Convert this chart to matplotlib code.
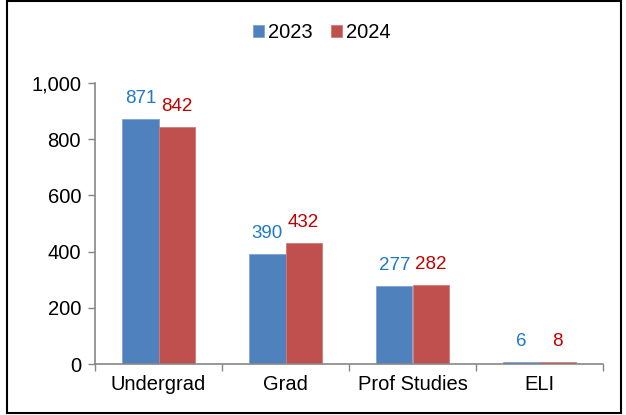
import matplotlib
matplotlib.use("Agg")
import matplotlib.pyplot as plt
from matplotlib.patches import Rectangle
from matplotlib.ticker import FuncFormatter, FixedLocator
import numpy as np

categories = ["Undergrad", "Grad", "Prof Studies", "ELI"]
series_names = ["2023", "2024"]
values_2023 = [871, 390, 277, 6]
values_2024 = [842, 432, 282, 8]
y_ticks = [0, 200, 400, 600, 800, 1000]

plt.rcParams['font.family'] = ['Liberation Sans', 'DejaVu Sans']

W, H = 626, 415
fig = plt.figure(figsize=(W / 100, H / 100), dpi=100)
ax = fig.add_axes([95 / W, (H - 364) / H, (603 - 95) / W, (364 - 83) / H])

x = np.arange(len(categories))
bw = 0.285
bar_colors = ["#4F81BD", "#C0504D"]
label_colors = ["#1F78C8", "#C00000"]
edge_colors = ["#7EA3D3", "#D07A78"]

for i, (vals, name) in enumerate(zip([values_2023, values_2024], series_names)):
    pos = x + (i - 0.5) * bw
    bars = ax.bar(pos, vals, width=bw, color=bar_colors[i], edgecolor=edge_colors[i],
                  linewidth=0.6, label=name, zorder=2)
    for b, v in zip(bars, vals):
        ax.annotate(f"{v:,}", (b.get_x() + b.get_width() / 2, v),
                    xytext=(0, 11.5), textcoords="offset points",
                    ha="center", va="baseline", fontsize=13.5, color=label_colors[i])

ax.set_xlim(-0.5, len(categories) - 0.5)
ax.set_ylim(0, 1000)
ax.yaxis.set_major_locator(FixedLocator(y_ticks))
ax.yaxis.set_major_formatter(FuncFormatter(lambda v, p: f"{int(v):,}"))

ax.set_xticks(x)
ax.set_xticklabels(categories)
ax.set_xticks(np.arange(-0.5, len(categories)), minor=True)
ax.tick_params(axis="x", which="major", length=0, labelsize=14.5, pad=8)
ax.tick_params(axis="x", which="minor", length=5, width=1, color="#868686", direction="out")
ax.tick_params(axis="y", length=5, width=1, color="#868686", direction="out", labelsize=14.5, pad=5)

for s in ["top", "right"]:
    ax.spines[s].set_visible(False)
for s in ["left", "bottom"]:
    ax.spines[s].set_color("#868686")
    ax.spines[s].set_linewidth(1.2)

leg = fig.legend(loc="center", bbox_to_anchor=(322 / W, (H - 33) / H), ncol=2,
                 frameon=False, fontsize=14.5, handlelength=0.55, handleheight=0.55,
                 handletextpad=0.2, columnspacing=0.9, borderpad=0)

fig.patches.append(Rectangle((6.5 / W, 2.5 / H), (620.5 - 6.5) / W, (414 - 2.5) / H,
                             transform=fig.transFigure, fill=False, edgecolor="black",
                             linewidth=1.5))

fig.savefig("out.png", dpi=100)
